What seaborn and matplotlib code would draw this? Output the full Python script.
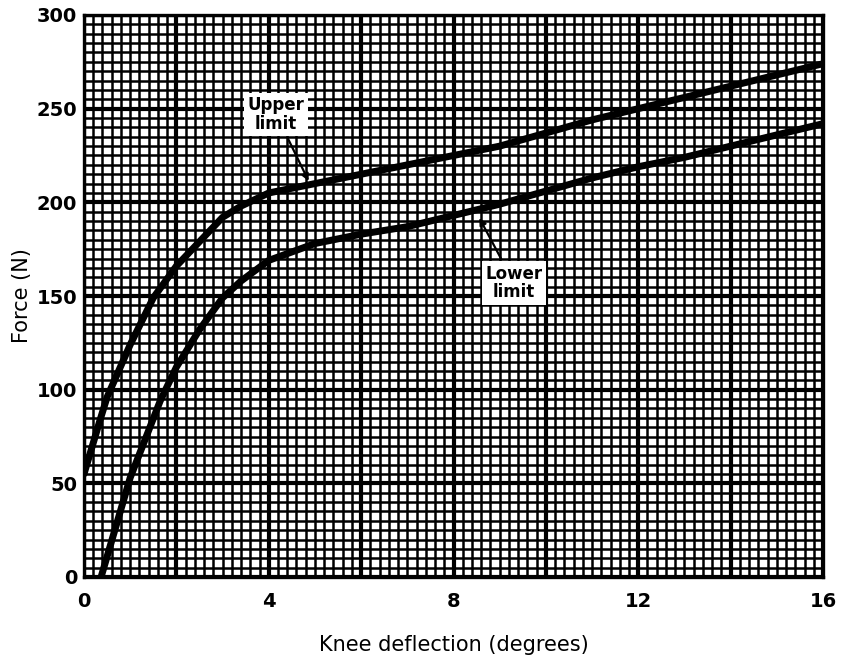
import numpy as np
import pandas as pd
import matplotlib
matplotlib.use("Agg")
import matplotlib.pyplot as plt
from matplotlib.ticker import MultipleLocator
import seaborn as sns

# curve values
upper_x = [0, 0.35, 0.5, 1, 1.5, 2, 2.5, 3, 3.4, 4, 5, 6, 7, 8, 9, 10, 11, 12, 13, 14, 15, 16]
upper_y = [55, 84, 96, 124, 149, 166, 179, 192, 198, 205, 210, 215, 220, 225, 230, 237, 244, 250, 256, 262, 268, 274]

lower_x = [0.37, 1, 1.65, 2, 2.5, 3, 3.4, 4, 5, 6, 7, 8, 9, 10, 11, 12, 13, 14, 15, 16]
lower_y = [0, 53, 94, 112, 132, 149, 158, 169, 178, 183, 187, 193, 199, 206, 213, 219, 224, 230, 236, 242]

x_ticks = [0, 4, 8, 12, 16]
y_ticks = [0, 50, 100, 150, 200, 250, 300]

df = pd.concat([
    pd.DataFrame({"deflection": upper_x, "force": upper_y, "limit": "Upper"}),
    pd.DataFrame({"deflection": lower_x, "force": lower_y, "limit": "Lower"}),
])

sns.set_style("white")
plt.rcParams["font.family"] = ["DejaVu Sans"]
plt.rcParams["text.color"] = "black"
plt.rcParams["axes.labelcolor"] = "black"
plt.rcParams["xtick.color"] = "black"
plt.rcParams["ytick.color"] = "black"

fig = plt.figure(figsize=(8.41, 6.61), dpi=100)
ax = fig.add_axes([84 / 841, 1 - 577 / 661, (823 - 84) / 841, (577 - 15) / 661])

# graph paper grid
ax.xaxis.set_minor_locator(MultipleLocator(0.2))
ax.yaxis.set_minor_locator(MultipleLocator(5))
ax.grid(which="minor", color="black", linewidth=1.8)
ax.grid(which="major", color="black", linewidth=3)
for gx in np.arange(2, 16, 4):
    ax.axvline(gx, color="black", linewidth=3, zorder=0.5)
ax.set_axisbelow(True)

sns.lineplot(data=df, x="deflection", y="force", hue="limit",
             palette={"Upper": "black", "Lower": "black"},
             linewidth=5, legend=False, ax=ax, zorder=3, sort=False)

ax.set_xlim(0, 16)
ax.set_ylim(0, 300)
ax.set_xticks(x_ticks)
ax.set_yticks(y_ticks)
ax.tick_params(which="both", length=0)
ax.tick_params(axis="x", pad=11, labelsize=14)
ax.tick_params(axis="y", pad=5, labelsize=14)
for lab in ax.get_xticklabels() + ax.get_yticklabels():
    lab.set_fontweight("bold")

ax.set_xlabel("Knee deflection (degrees)", fontsize=15, labelpad=17)
ax.set_ylabel("Force (N)", fontsize=15, labelpad=3)

for s in ax.spines.values():
    s.set_visible(True)
    s.set_color("black")
    s.set_linewidth(2.4)

box = dict(boxstyle="square,pad=0.2", facecolor="white", edgecolor="none")
arrow = dict(arrowstyle="-|>", color="black", linewidth=1.6, mutation_scale=10)
ax.annotate("Upper\nlimit", xy=(4.89, 210), xytext=(4.16, 247),
            ha="center", va="center", fontsize=12, fontweight="bold",
            linespacing=1.05, bbox=box, arrowprops=arrow, zorder=5)
ax.annotate("Lower\nlimit", xy=(8.53, 193), xytext=(9.31, 157),
            ha="center", va="center", fontsize=12, fontweight="bold",
            linespacing=1.05, bbox=box, arrowprops=arrow, zorder=5)

fig.savefig("out.png", dpi=100)
